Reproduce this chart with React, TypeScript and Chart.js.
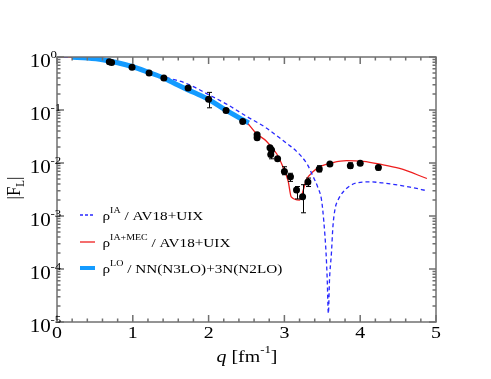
import { useEffect, useRef } from "react";
import { Chart, registerables } from "chart.js";

Chart.register(...registerables);

// Experimental points
const expQ = [0.69, 0.72, 0.99, 1.215, 1.41, 1.73, 2.0, 2.23, 2.45, 2.64, 2.64, 2.81, 2.83, 2.82, 2.91, 3.0, 3.08, 3.16, 3.24, 3.31, 3.46, 3.6, 3.87, 4.0, 4.24];
const expF = [0.81, 0.79, 0.64, 0.5, 0.4, 0.26, 0.16, 0.098, 0.061, 0.034, 0.03, 0.0195, 0.0175, 0.0145, 0.012, 0.0069, 0.0055, 0.0031, 0.0023, 0.0044, 0.0077, 0.0096, 0.0089, 0.0099, 0.0082];
const expLo = [0.81, 0.79, 0.64, 0.5, 0.4, 0.26, 0.11, 0.098, 0.061, 0.034, 0.03, 0.0195, 0.0175, 0.012, 0.012, 0.006, 0.0045, 0.0021, 0.00115, 0.0036, 0.0068, 0.0096, 0.008, 0.0099, 0.0074];
const expHi = [0.81, 0.79, 0.64, 0.5, 0.4, 0.26, 0.215, 0.098, 0.061, 0.034, 0.03, 0.0195, 0.0175, 0.017, 0.012, 0.0085, 0.0064, 0.0036, 0.0039, 0.0052, 0.0089, 0.0096, 0.0101, 0.0099, 0.009];

// rho^LO / NN(N3LO)+3N(N2LO)
const loQ = [0.2, 0.4, 0.6, 0.8, 1.0, 1.2, 1.4, 1.6, 1.8, 2.0, 2.2, 2.4, 2.53];
const loF = [0.99, 0.955, 0.89, 0.78, 0.655, 0.52, 0.407, 0.292, 0.216, 0.158, 0.105, 0.072, 0.057];

// rho^IA / AV18+UIX
const iaQ = [0, 0.5, 1.0, 1.2, 1.4, 1.5, 1.71, 2.0, 2.25, 2.5, 2.75, 2.94, 3.05, 3.16, 3.3, 3.38, 3.44, 3.49, 3.52, 3.55, 3.565, 3.58, 3.595, 3.62, 3.64, 3.67, 3.7, 3.78, 3.95, 4.13, 4.3, 4.66, 4.88];
const iaF = [1.0, 0.94, 0.66, 0.53, 0.432, 0.39, 0.316, 0.195, 0.126, 0.076, 0.047, 0.0295, 0.0224, 0.0166, 0.0095, 0.0055, 0.0035, 0.002, 0.00079, 0.000195, 0.000063, 0.0000145, 0.000063, 0.000195, 0.00063, 0.0014, 0.0019, 0.0029, 0.0042, 0.0044, 0.0042, 0.0035, 0.003];

// rho^IA+MEC / AV18+UIX
const mecQ = [0, 0.4, 0.8, 1.2, 1.6, 2.0, 2.4, 2.5, 2.63, 2.76, 2.9, 2.98, 3.05, 3.09, 3.2, 3.23, 3.29, 3.38, 3.47, 3.64, 3.82, 4.04, 4.26, 4.52, 4.88];
const mecF = [1.0, 0.955, 0.78, 0.52, 0.292, 0.158, 0.072, 0.059, 0.036, 0.026, 0.0148, 0.0085, 0.0045, 0.0023, 0.002, 0.0025, 0.0048, 0.0069, 0.0085, 0.0102, 0.0111, 0.0107, 0.0095, 0.0079, 0.0051];

const xTickLabels = ["0", "1", "2", "3", "4", "5"];
const yTickExponents = ["0", "-1", "-2", "-3", "-4", "-5"];

const legendLabels = [
  { sup: "IA", rest: " / AV18+UIX" },
  { sup: "IA+MEC", rest: " / AV18+UIX" },
  { sup: "LO", rest: " / NN(N3LO)+3N(N2LO)" },
];

const FAM = '"Liberation Serif", "DejaVu Serif", "Times New Roman", serif';
const SX = 1.17;
const AXIS = "#707070";

type Seg = [string, number, number, boolean?];

function drawSegs(ctx: CanvasRenderingContext2D, segs: Seg[], x: number, y: number, align: string, sx = SX, sy = 1) {
  const widths = segs.map((s) => {
    ctx.font = `${s[3] ? "italic " : ""}${s[1]}px ${FAM}`;
    return ctx.measureText(s[0]).width * sx;
  });
  const total = widths.reduce((a, b) => a + b, 0);
  let cx = align === "right" ? x - total : align === "center" ? x - total / 2 : x;
  segs.forEach((s, i) => {
    ctx.save();
    ctx.translate(cx, y + s[2]);
    ctx.scale(sx, sy);
    ctx.font = `${s[3] ? "italic " : ""}${s[1]}px ${FAM}`;
    ctx.textAlign = "left";
    ctx.textBaseline = "alphabetic";
    ctx.fillStyle = "#000";
    ctx.fillText(s[0], 0, 0);
    ctx.restore();
    cx += widths[i];
  });
}

const decor = {
  id: "decor",
  afterDatasetsDraw(chart: any) {
    const ctx: CanvasRenderingContext2D = chart.ctx;
    const xs = chart.scales.x;
    const ys = chart.scales.y;
    ctx.save();
    ctx.strokeStyle = "#000";
    ctx.lineWidth = 1;
    for (let i = 0; i < expQ.length; i++) {
      if (expLo[i] === expHi[i]) continue;
      const px = Math.round(xs.getPixelForValue(expQ[i])) + 0.5;
      const p1 = ys.getPixelForValue(expLo[i]);
      const p2 = ys.getPixelForValue(expHi[i]);
      ctx.beginPath();
      ctx.moveTo(px, p1);
      ctx.lineTo(px, p2);
      ctx.moveTo(px - 2.5, p1);
      ctx.lineTo(px + 2.5, p1);
      ctx.moveTo(px - 2.5, p2);
      ctx.lineTo(px + 2.5, p2);
      ctx.stroke();
    }
    ctx.restore();
  },
  afterDraw(chart: any) {
    const ctx: CanvasRenderingContext2D = chart.ctx;
    const xs = chart.scales.x;
    const ys = chart.scales.y;
    const { left, right, top, bottom } = chart.chartArea;
    ctx.save();
    ctx.strokeStyle = AXIS;
    ctx.lineWidth = 1.5;
    ctx.strokeRect(left, top, right - left, bottom - top);
    ctx.beginPath();
    for (let i = 0; i <= 25; i++) {
      const v = i / 5;
      const px = xs.getPixelForValue(v);
      const len = i % 5 === 0 ? 7 : 3.5;
      ctx.moveTo(px, bottom);
      ctx.lineTo(px, bottom - len);
      ctx.moveTo(px, top);
      ctx.lineTo(px, top + len);
    }
    for (let e = -5; e <= 0; e++) {
      for (let m = 1; m <= 9; m++) {
        const v = m * Math.pow(10, e);
        if (v > 1.0000001) continue;
        const py = ys.getPixelForValue(v);
        const len = m === 1 ? 7 : 3.5;
        ctx.moveTo(left, py);
        ctx.lineTo(left + len, py);
        ctx.moveTo(right, py);
        ctx.lineTo(right - len, py);
      }
    }
    ctx.stroke();
    ctx.restore();

    // x tick labels
    xTickLabels.forEach((t) => {
      const px = xs.getPixelForValue(Number(t));
      drawSegs(ctx, [[t, 17, 0]], px, bottom + 15.6, "center");
    });
    // y tick labels
    yTickExponents.forEach((e) => {
      const py = ys.getPixelForValue(Math.pow(10, Number(e)));
      drawSegs(ctx, [["10", 18, 0]], 50.8, py + 10, "right");
      drawSegs(ctx, [[e, 11, 0]], 50.5, py + 1, "left");
    });
    // x title
    drawSegs(ctx, [["q", 17, 0, true], [" [fm", 17, 0], ["-1", 11, -8.5], ["]", 17, 0]], (left + right) / 2 + 0.5, 361.5, "center");
    // y title (rotated)
    ctx.save();
    ctx.translate(20, 188);
    ctx.rotate(-Math.PI / 2);
    drawSegs(ctx, [["|F", 17, 0], ["L", 11, 4], ["|", 17, 0]], 0, 0, "center", 1, SX);
    ctx.restore();

    // legend
    const rows = [220, 247, 273];
    ctx.save();
    ctx.strokeStyle = "rgb(40,40,255)";
    ctx.lineWidth = 1.3;
    ctx.setLineDash([3, 2]);
    ctx.beginPath();
    ctx.moveTo(80, rows[0] - 5);
    ctx.lineTo(95, rows[0] - 5);
    ctx.stroke();
    ctx.setLineDash([]);
    ctx.strokeStyle = "rgb(238,30,30)";
    ctx.lineWidth = 1.3;
    ctx.beginPath();
    ctx.moveTo(80, rows[1] - 5);
    ctx.lineTo(95, rows[1] - 5);
    ctx.stroke();
    ctx.strokeStyle = "rgb(20,155,255)";
    ctx.lineWidth = 4;
    ctx.beginPath();
    ctx.moveTo(80, rows[2] - 5);
    ctx.lineTo(95, rows[2] - 5);
    ctx.stroke();
    ctx.restore();
    legendLabels.forEach((l, i) => {
      drawSegs(ctx, [["ρ", 13, 0], [l.sup, 8.5, -7], [l.rest, 13, 0]], 102.5, rows[i], "left");
    });
  },
};

export default function App() {
  const ref = useRef<HTMLCanvasElement | null>(null);
  useEffect(() => {
    if (!ref.current) return;
    const pts = (q: number[], f: number[]) => q.map((x, i) => ({ x, y: f[i] }));
    const chart = new Chart(ref.current, {
      type: "line",
      data: {
        datasets: [
          {
            data: pts(expQ, expF),
            showLine: false,
            pointRadius: 3.5,
            pointBackgroundColor: "#000",
            pointBorderColor: "#000",
            pointBorderWidth: 0,
            clip: false as any,
          },
          {
            data: pts(loQ, loF),
            borderColor: "rgb(20,155,255)",
            borderWidth: 5,
            pointRadius: 0,
            cubicInterpolationMode: "monotone",
            clip: 0 as any,
          },
          {
            data: pts(iaQ, iaF),
            borderColor: "rgb(40,40,255)",
            borderWidth: 1.3,
            borderDash: [4, 3],
            pointRadius: 0,
            cubicInterpolationMode: "monotone",
            clip: 0 as any,
          },
          {
            data: pts(mecQ, mecF),
            borderColor: "rgb(238,30,30)",
            borderWidth: 1.3,
            pointRadius: 0,
            cubicInterpolationMode: "monotone",
            clip: 0 as any,
          },
        ],
      },
      options: {
        responsive: false,
        animation: false,
        layout: { padding: { left: 57, right: 55, top: 57, bottom: 57 } },
        scales: {
          x: { type: "linear", min: 0, max: 5, display: false },
          y: { type: "logarithmic", min: 1e-5, max: 1, display: false },
        },
        plugins: { legend: { display: false }, tooltip: { enabled: false } },
      },
      plugins: [decor],
    });
    return () => chart.destroy();
  }, []);
  return (
    <div style={{ position: "fixed", left: 0, top: 0, width: 491, height: 379, background: "#fff" }}>
      <canvas ref={ref} width={491} height={379} style={{ display: "block" }} />
    </div>
  );
}
